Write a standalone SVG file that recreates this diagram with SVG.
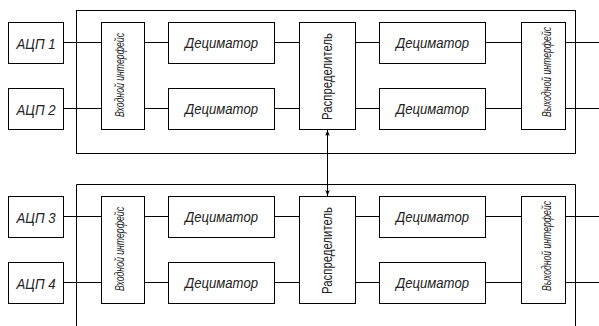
<svg xmlns="http://www.w3.org/2000/svg" width="599" height="326" viewBox="0 0 599 326">
<style>
.b{fill:#fff;stroke:#000;stroke-width:1}
.f{fill:none;stroke:#000;stroke-width:1}
.l{fill:none;stroke:#000;stroke-width:1}
.t{font-family:"Liberation Sans",Arial,sans-serif;font-style:italic;fill:#222;text-anchor:middle}
.u{font-family:"Liberation Sans",Arial,sans-serif;fill:#222;text-anchor:middle}
</style>
<defs>
<marker id="ah" viewBox="0 0 6 6" refX="6" refY="3" markerWidth="6" markerHeight="6" orient="auto-start-reverse" markerUnits="userSpaceOnUse">
<path d="M0,0.8 L6,3 L0,5.2 L1.5,3 z" fill="#000"/>
</marker>
</defs>
<rect width="599" height="326" fill="#fff"/>
<g id="frame1"><rect class="f" x="76.5" y="10.5" width="499" height="143"/></g>
<g id="frame2"><path class="f" d="M76.5,326 V184.5 H575.5 V326"/></g>
<g id="connectors">
<path class="l" d="M63.5,42.5H101.5 M63.5,108.5H101.5 M144.5,42.5H168.5 M144.5,108.5H168.5 M274.5,42.5H299.5 M274.5,108.5H299.5 M355.5,42.5H379.5 M355.5,108.5H379.5 M485.5,42.5H521.5 M485.5,108.5H521.5 M565.5,42.5H599 M565.5,108.5H599"/>
<path class="l" d="M63.5,216.5H101.5 M63.5,282.5H101.5 M144.5,216.5H168.5 M144.5,282.5H168.5 M274.5,216.5H299.5 M274.5,282.5H299.5 M355.5,216.5H379.5 M355.5,282.5H379.5 M485.5,216.5H521.5 M485.5,282.5H521.5 M565.5,216.5H599 M565.5,282.5H599"/>
<line class="l" x1="327.5" y1="130" x2="327.5" y2="196" marker-start="url(#ah)" marker-end="url(#ah)"/>
</g>
<g id="adc1"><rect class="b" x="8.5" y="22.5" width="55" height="41"/><text class="t" x="36" y="48.5" font-size="15" textLength="39" lengthAdjust="spacingAndGlyphs">АЦП 1</text></g>
<g id="adc2"><rect class="b" x="8.5" y="88.5" width="55" height="41"/><text class="t" x="36" y="114.5" font-size="15" textLength="39" lengthAdjust="spacingAndGlyphs">АЦП 2</text></g>
<g id="in1"><rect class="b" x="101.5" y="22.5" width="43" height="107"/><text class="t" transform="translate(124,75) rotate(-90)" x="0" y="0" font-size="13.5" textLength="84" lengthAdjust="spacingAndGlyphs">Входной интерфейс</text></g>
<g id="dec1"><rect class="b" x="168.5" y="22.5" width="106" height="41"/><text class="t" x="221.5" y="48" font-size="14.5" textLength="73" lengthAdjust="spacingAndGlyphs">Дециматор</text></g>
<g id="dec2"><rect class="b" x="168.5" y="88.5" width="106" height="41"/><text class="t" x="221.5" y="114" font-size="14.5" textLength="73" lengthAdjust="spacingAndGlyphs">Дециматор</text></g>
<g id="dist1"><rect class="b" x="299.5" y="22.5" width="56" height="107"/><text class="u" transform="translate(331.5,76.5) rotate(-90)" x="0" y="0" font-size="15" textLength="87" lengthAdjust="spacingAndGlyphs">Распределитель</text></g>
<g id="dec3"><rect class="b" x="379.5" y="22.5" width="106" height="41"/><text class="t" x="432.5" y="48" font-size="14.5" textLength="73" lengthAdjust="spacingAndGlyphs">Дециматор</text></g>
<g id="dec4"><rect class="b" x="379.5" y="88.5" width="106" height="41"/><text class="t" x="432.5" y="114" font-size="14.5" textLength="73" lengthAdjust="spacingAndGlyphs">Дециматор</text></g>
<g id="out1"><rect class="b" x="521.5" y="22.5" width="44" height="107"/><text class="t" transform="translate(551,72) rotate(-90)" x="0" y="0" font-size="13.5" textLength="90" lengthAdjust="spacingAndGlyphs">Выходной интерфейс</text></g>
<g id="adc3"><rect class="b" x="8.5" y="196.5" width="55" height="41"/><text class="t" x="36" y="222.5" font-size="15" textLength="39" lengthAdjust="spacingAndGlyphs">АЦП 3</text></g>
<g id="adc4"><rect class="b" x="8.5" y="262.5" width="55" height="41"/><text class="t" x="36" y="288.5" font-size="15" textLength="39" lengthAdjust="spacingAndGlyphs">АЦП 4</text></g>
<g id="in2"><rect class="b" x="101.5" y="196.5" width="43" height="107"/><text class="t" transform="translate(124,249) rotate(-90)" x="0" y="0" font-size="13.5" textLength="84" lengthAdjust="spacingAndGlyphs">Входной интерфейс</text></g>
<g id="dec5"><rect class="b" x="168.5" y="196.5" width="106" height="41"/><text class="t" x="221.5" y="222" font-size="14.5" textLength="73" lengthAdjust="spacingAndGlyphs">Дециматор</text></g>
<g id="dec6"><rect class="b" x="168.5" y="262.5" width="106" height="41"/><text class="t" x="221.5" y="288" font-size="14.5" textLength="73" lengthAdjust="spacingAndGlyphs">Дециматор</text></g>
<g id="dist2"><rect class="b" x="299.5" y="196.5" width="56" height="107"/><text class="u" transform="translate(331.5,250.5) rotate(-90)" x="0" y="0" font-size="15" textLength="87" lengthAdjust="spacingAndGlyphs">Распределитель</text></g>
<g id="dec7"><rect class="b" x="379.5" y="196.5" width="106" height="41"/><text class="t" x="432.5" y="222" font-size="14.5" textLength="73" lengthAdjust="spacingAndGlyphs">Дециматор</text></g>
<g id="dec8"><rect class="b" x="379.5" y="262.5" width="106" height="41"/><text class="t" x="432.5" y="288" font-size="14.5" textLength="73" lengthAdjust="spacingAndGlyphs">Дециматор</text></g>
<g id="out2"><rect class="b" x="521.5" y="196.5" width="44" height="107"/><text class="t" transform="translate(551,246) rotate(-90)" x="0" y="0" font-size="13.5" textLength="90" lengthAdjust="spacingAndGlyphs">Выходной интерфейс</text></g>
</svg>
